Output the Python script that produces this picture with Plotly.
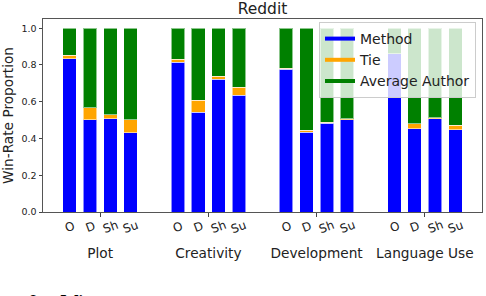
import plotly.graph_objects as go

# ---- data ----
groups = ["Plot", "Creativity", "Development", "Language Use"]
subs = ["O", "D", "Sh", "Su"]
method = [0.835, 0.503, 0.508, 0.430,
          0.816, 0.543, 0.721, 0.634,
          0.776, 0.433, 0.483, 0.502,
          0.862, 0.452, 0.508, 0.448]
tie = [0.017, 0.064, 0.022, 0.073,
       0.015, 0.064, 0.017, 0.045,
       0.005, 0.011, 0.004, 0.004,
       0.000, 0.029, 0.005, 0.024]
avg_author = [round(1 - m - t, 3) for m, t in zip(method, tie)]
series_names = ["Method", "Tie", "Average Author"]
colors = ["#0000ff", "#ffa500", "#008000"]
yticks = [0.0, 0.2, 0.4, 0.6, 0.8, 1.0]

# ---- layout helpers ----
spacing = 0.1875
bar_w = 0.125
offsets = [(j - 1.5) * spacing for j in range(len(subs))]
xpos = [gi + off for gi in range(len(groups)) for off in offsets]

FONT = "DejaVu Sans"
W, H = 486, 296
L, R, T, B = 43, 4, 19, 84
ph = H - T - B


def py2paper(py):
    return (H - B - py) / ph


fig = go.Figure()
for name, vals, col in zip(series_names, [method, tie, avg_author], colors):
    fig.add_trace(go.Bar(
        x=xpos, y=vals, width=bar_w, name=name, showlegend=False,
        hoverinfo="skip",
        marker=dict(color=col, line=dict(color="rgba(255,255,255,0.55)", width=1)),
    ))
for name, col in zip(series_names, colors):
    # legend handle as a thick line
    fig.add_trace(go.Scatter(
        x=[None], y=[None], mode="lines", name=name,
        line=dict(color=col, width=4),
    ))

annotations = []
for gi in range(len(groups)):
    for j, s in enumerate(subs):
        annotations.append(dict(
            x=gi + offsets[j], y=py2paper(227), xref="x", yref="paper",
            text=s, showarrow=False, textangle=-20,
            font=dict(family=FONT, size=12, color="#222"),
            xanchor="center", yanchor="middle",
        ))

# clipped caption fragment at bottom of the picture
annotations.append(dict(
    x=(27 - L) / (W - L - R), y=py2paper(301.5), xref="paper", yref="paper",
    text="<b>9.\u00a0\u00a0\u00a0\u00a0Wi</b>", showarrow=False,
    font=dict(family="Liberation Serif", size=18, color="#000"),
    xanchor="left", yanchor="middle",
))

fig.update_layout(
    width=W, height=H,
    margin=dict(l=L, r=R, t=T, b=B, autoexpand=False),
    barmode="stack",
    plot_bgcolor="white", paper_bgcolor="white",
    font=dict(family=FONT, color="#222"),
    title=dict(text="Reddit", x=(L + (W - L - R) / 2) / W, xanchor="center",
               y=1 - 9 / H, yanchor="middle",
               font=dict(family=FONT, size=15.5, color="#222")),
    xaxis=dict(
        range=[-0.528, 3.528], tickvals=list(range(len(groups))), ticktext=groups,
        ticks="outside", ticklen=3.5, tickwidth=1, tickcolor="#444",
        showline=True, linecolor="#555", linewidth=1, mirror=True,
        showgrid=False, zeroline=False, automargin=False,
        tickfont=dict(family=FONT, size=13.7, color="#222"),
        ticklabelstandoff=25,
    ),
    yaxis=dict(
        range=[0, 1.05], tickvals=yticks, ticktext=[f"{v:.1f}" for v in yticks],
        ticks="outside", ticklen=3.5, tickwidth=1, tickcolor="#444",
        showline=True, linecolor="#555", linewidth=1, mirror=True,
        showgrid=False, zeroline=False, automargin=False,
        tickfont=dict(family=FONT, size=9.5, color="#222"),
        title=dict(text="Win-Rate Proportion", standoff=6,
                   font=dict(family=FONT, size=13.7, color="#222")),
    ),
    legend=dict(
        x=(476 - L) / (W - L - R), y=py2paper(22), xanchor="right", yanchor="top",
        bgcolor="rgba(255,255,255,0.8)", bordercolor="#cccccc", borderwidth=1,
        font=dict(family=FONT, size=14, color="#222"),
        tracegroupgap=0, traceorder="normal",
    ),
    annotations=annotations,
    showlegend=True,
    hovermode=False,
)

fig.write_html(
    "out.html",
    config={"displayModeBar": False, "staticPlot": True},
    post_script="document.body.style.margin='0';document.body.style.overflow='hidden';",
)
